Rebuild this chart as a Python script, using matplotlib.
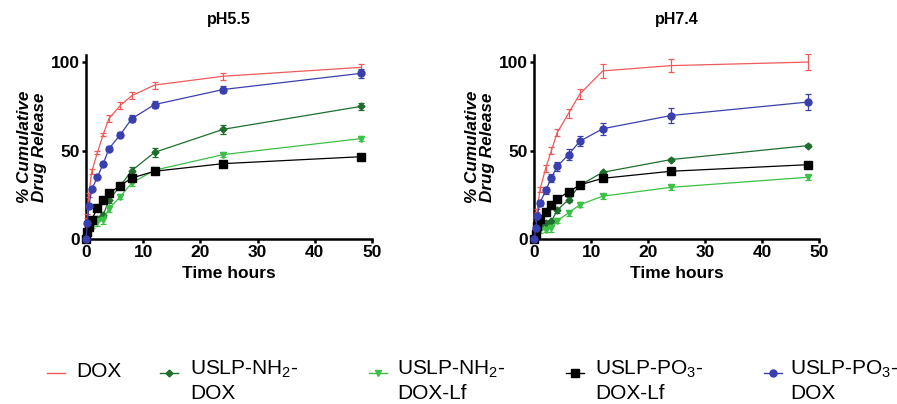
import matplotlib
matplotlib.use("Agg")
import matplotlib.pyplot as plt
from matplotlib.lines import Line2D
import numpy as np

plt.rcParams['font.family'] = ['Liberation Sans', 'DejaVu Sans']
plt.rcParams['mathtext.fontset'] = 'custom'
plt.rcParams['mathtext.rm'] = 'Liberation Sans'
plt.rcParams['mathtext.it'] = 'Liberation Sans:italic'
plt.rcParams['mathtext.bf'] = 'Liberation Sans:bold'

time_h = [0, 0.25, 0.5, 1, 2, 3, 4, 6, 8, 12, 24, 48]
series_names = ["DOX", "USLP-NH$_2$-\nDOX", "USLP-NH$_2$-\nDOX-Lf", "USLP-PO$_3$-\nDOX-Lf", "USLP-PO$_3$-\nDOX"]
panel_titles = ["pH5.5", "pH7.4"]
x_ticks = [0, 10, 20, 30, 40, 50]
y_ticks = [0, 50, 100]

# pH 5.5
ph55_dox      = [0, 13, 25, 38, 49, 59, 68, 75.5, 81, 87, 92, 97]
ph55_nh2_dox  = [0, 5, 8, 10, 11.5, 13.4, 22, 30, 38.7, 49, 62, 74.9]
ph55_nh2_lf   = [0, 3.8, 6, 8, 9.6, 10.6, 17, 24, 31.7, 38.9, 47.7, 56.7]
ph55_po3_lf   = [0, 3.8, 6.8, 11, 17.5, 22, 25.8, 30.2, 34.5, 38.3, 42.6, 46.5]
ph55_po3_dox  = [0, 9, 18.5, 28, 35, 42.5, 51, 59, 68, 76, 84.5, 93.6]
ph55_dox_err     = [0, 1, 1, 1.5, 1, 1, 2, 2, 2, 2, 2, 2]
ph55_nh2_dox_err = [0, 1, 1, 1, 1.5, 1.5, 1.5, 2, 2, 2.5, 2.5, 2]
ph55_nh2_lf_err  = [0, 1, 1, 1.5, 2, 2, 2, 1.5, 1.5, 1.5, 1.5, 1.5]
ph55_po3_lf_err  = [0, 0.8, 0.8, 0.8, 0.8, 0.8, 0.8, 0.8, 0.8, 0.8, 0.8, 0.8]
ph55_po3_dox_err = [0, 0.8, 0.8, 0.8, 0.8, 1, 1.5, 1.5, 2, 2, 2, 2.5]

# pH 7.4
ph74_dox      = [0, 8, 16, 28, 40, 50, 60, 71, 82, 95, 98, 100]
ph74_nh2_dox  = [0, 2.5, 5.3, 7.5, 9, 10, 16.2, 22.3, 30.4, 37.7, 44.9, 52.8]
ph74_nh2_lf   = [0, 1.5, 3.8, 5, 5.3, 6, 10.4, 14.7, 19.4, 24.2, 29.2, 34.9]
ph74_po3_lf   = [0, 2.8, 7.2, 11.5, 15.5, 19, 22.6, 26.6, 30.6, 34.3, 38.3, 42]
ph74_po3_dox  = [0, 6.2, 13.2, 20.4, 27.5, 34.5, 41, 47.7, 55.3, 62.3, 69.8, 77.4]
ph74_dox_err     = [0, 1, 1, 1.5, 2, 2, 2, 2.5, 3, 4, 3.5, 4.5]
ph74_nh2_dox_err = [0, 1, 1, 1, 1, 1, 1.5, 1.5, 1, 1, 0.8, 0.8]
ph74_nh2_lf_err  = [0, 1, 1, 1.5, 1.5, 2, 1.5, 1.5, 1.5, 1.5, 1.5, 1.5]
ph74_po3_lf_err  = [0, 0.8, 0.8, 0.8, 0.8, 0.8, 0.8, 0.8, 0.8, 0.8, 0.8, 1]
ph74_po3_dox_err = [0, 1, 1, 1.5, 2, 2.5, 2.5, 3, 3, 3.5, 4, 4.5]

colors = ["#f05a5a", "#1f6e2e", "#3cc046", "#000000", "#3a3fae"]
markers = [None, "D", "v", "s", "o"]
msizes = [0, 3.5, 5, 5.5, 5]

panels = [
    ([ph55_dox, ph55_nh2_dox, ph55_nh2_lf, ph55_po3_lf, ph55_po3_dox],
     [ph55_dox_err, ph55_nh2_dox_err, ph55_nh2_lf_err, ph55_po3_lf_err, ph55_po3_dox_err]),
    ([ph74_dox, ph74_nh2_dox, ph74_nh2_lf, ph74_po3_lf, ph74_po3_dox],
     [ph74_dox_err, ph74_nh2_dox_err, ph74_nh2_lf_err, ph74_po3_lf_err, ph74_po3_dox_err]),
]

W, H = 897, 404
fig = plt.figure(figsize=(W / 100, H / 100), dpi=100)

axes_px = [(86, 286), (534.3, 285)]
top_px, bot_px = 55, 239

for i, (ax_pos, (vals, errs)) in enumerate(zip(axes_px, panels)):
    left, width = ax_pos
    ax = fig.add_axes([left / W, (H - bot_px) / H, width / W, (bot_px - top_px) / H])
    for j in range(5):
        ax.errorbar(time_h, vals[j], yerr=errs[j], color=colors[j], marker=markers[j],
                    markersize=msizes[j], linewidth=0.9, elinewidth=0.9, capsize=2.5,
                    capthick=0.9, clip_on=False, zorder=3 + j)
    ax.set_xlim(0, 50)
    ax.set_ylim(0, 104)
    ax.set_xticks(x_ticks)
    ax.set_yticks(y_ticks)
    for s in ['top', 'right']:
        ax.spines[s].set_visible(False)
    for s in ['left', 'bottom']:
        ax.spines[s].set_linewidth(1.8)
    ax.tick_params(width=1.8, length=3, labelsize=12.5, pad=1.5)
    for lab in ax.get_xticklabels() + ax.get_yticklabels():
        lab.set_fontweight('bold')
    ax.set_xlabel("Time hours", fontsize=12.5, fontweight='bold', labelpad=4)
    ax.set_ylabel("% Cumulative\nDrug Release", fontsize=12.3, fontweight='bold',
                  style='italic', labelpad=3, linespacing=1.0)
    ax.set_title(panel_titles[i], fontsize=11.5, fontweight='bold', pad=22)

# manual legend (figure pixel positions)
handle_cx = [56, 169, 377.5, 575, 773]
label_x = [76.7, 190, 397, 595, 790]
handle_y = 373
for j in range(5):
    hx = handle_cx[j]
    fy = (H - handle_y) / H
    line = Line2D([(hx - 9) / W, (hx + 9) / W], [fy, fy], color=colors[j], linewidth=1.0,
                  transform=fig.transFigure)
    fig.add_artist(line)
    if markers[j] is not None:
        mk = Line2D([hx / W], [fy], color=colors[j], marker=markers[j],
                    markersize=msizes[j], linestyle='none', transform=fig.transFigure)
        fig.add_artist(mk)
    if j == 0:
        fig.text(label_x[j] / W, (H - 371.5) / H, series_names[j], fontsize=15,
                 ha='left', va='center')
    else:
        fig.text(label_x[j] / W, (H - 381) / H, series_names[j], fontsize=15,
                 ha='left', va='center', linespacing=1.25)

fig.savefig("out.png", dpi=100)
